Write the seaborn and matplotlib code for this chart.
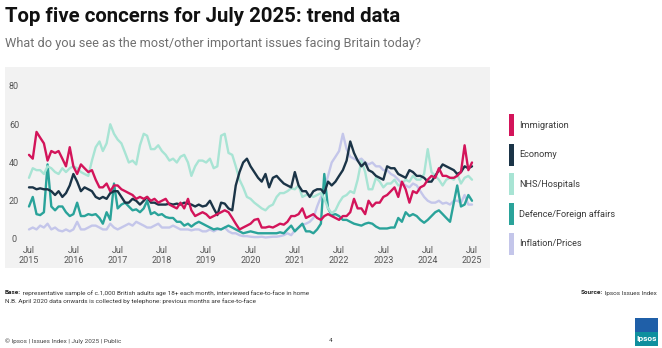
import matplotlib
matplotlib.use("Agg")
import matplotlib.pyplot as plt
import matplotlib.dates as mdates
from matplotlib import font_manager
from matplotlib.patches import Rectangle
import numpy as np
import pandas as pd
import seaborn as sns

# Monthly share (%) naming each issue, Jul 2015 - Jul 2025
months = pd.date_range("2015-07-01", "2025-07-01", freq="MS")

immigration = [
    44, 42, 56, 53, 50, 41, 46, 45, 46, 42,
    38, 48, 38, 34, 39, 37, 35, 36, 31, 27,
    27, 29, 25, 28, 28, 26, 25, 24, 23, 21,
    22, 21, 22, 20, 21, 19, 20, 21, 18, 17,
    16, 19, 16, 21, 15, 12, 13, 14, 13, 11,
    12, 13, 14, 15, 14, 11, 8, 5, 6, 7,
    8, 10, 10.5, 6, 6, 6.5, 6, 7, 8, 7.5,
    9, 12, 12, 13, 16, 11, 12, 13, 11, 10,
    12, 13, 12, 11, 10, 12, 12, 14, 21, 16,
    16, 13, 20, 17, 19, 19, 22, 23, 25, 27,
    22, 30, 26, 19, 25, 24, 27, 28, 31, 33,
    32, 37, 33, 33, 32, 32, 33, 35, 49, 36,
    40,
]

economy = [
    27, 27, 26, 26.5, 26, 26, 25, 23, 25, 22,
    24, 28, 34, 30, 25, 27, 26, 25, 22, 21,
    22, 21, 24, 25, 25, 22, 19, 19, 21, 20,
    18, 20, 22, 19, 19, 18, 18, 18, 18.5, 18,
    18.5, 18, 19, 18.5, 18, 17, 18, 17, 17.5, 20,
    16, 12.5, 19, 18.5, 16, 15, 28, 35, 40, 42,
    38, 35, 32, 30, 34, 27, 32, 33, 31, 29,
    28, 27, 35, 28, 25, 25, 22, 25, 26, 26,
    24, 30, 28, 30, 33, 36, 41, 51, 45, 41,
    38, 40, 36, 35, 33, 32, 31, 38, 37, 37,
    34, 33, 32, 36, 35, 33, 33, 32, 30, 30,
    33, 36, 39, 38, 37, 36, 34, 35, 38, 37,
    38,
]

nhs = [
    32, 37, 36, 36, 34, 38, 37, 35, 34, 37,
    35, 37, 38, 37, 35, 34, 33, 41, 48, 51,
    46, 50, 60, 55, 52, 50, 45, 40, 41, 39,
    49, 55, 54, 47, 47, 49, 46, 44, 41, 42,
    40, 43, 44, 40, 33, 38, 41, 41, 40, 42,
    37, 38, 54, 55, 45, 44, 38, 31, 27, 22,
    21, 19, 17.5, 16, 15, 17, 18, 22, 24, 24,
    25, 26.5, 26, 28, 22, 23, 23, 22, 23, 24,
    21, 16, 13.5, 15, 19, 22, 23, 25, 24, 31,
    41, 35, 26, 26, 32, 30, 27, 29, 29, 31,
    28, 29, 31, 30, 33, 31, 31, 34, 47, 35,
    33, 31, 28, 31, 32, 31, 34, 29, 32, 33,
    31,
]

defence = [
    17, 22, 13, 12.5, 14, 39, 17, 15, 17, 17,
    14, 12, 13, 19, 12, 12, 13, 12.5, 13, 11,
    8, 14, 10, 29, 16, 18, 19, 17, 15, 15.5,
    14, 16, 20, 13, 14, 12.5, 13, 11.5, 11, 11,
    9, 9, 7, 8, 6.5, 8, 9, 8, 7, 6,
    5, 5.5, 5, 6, 7, 6, 5, 4, 3, 3.5,
    4, 3.5, 3, 3, 3, 3, 3, 3, 3.5, 3,
    5, 7, 4, 6, 8, 4, 4, 3, 5, 8,
    34, 16, 12.5, 13, 12, 10, 10, 9, 8, 7.5,
    7, 8, 8.5, 8, 6.5, 5.5, 5.5, 5.5, 6, 6,
    11, 9, 14, 12, 13, 12, 10, 8.5, 10, 12,
    14, 15, 13, 11, 9, 19, 28, 17, 18, 23,
    20,
]

inflation = [
    5, 6, 5, 7, 6, 8, 5, 6, 4.5, 4,
    5, 4, 5, 9, 5, 5, 6, 7, 7, 6,
    5, 5, 8, 6, 5, 6, 7, 8, 7, 9,
    8, 7, 6, 6, 7, 8, 6, 6, 6, 7,
    6, 5, 5, 5, 4.5, 5, 5, 4, 4, 5,
    4, 5, 5, 6, 4, 3, 3, 2, 1.5, 1.5,
    1.2, 1, 1, 1.2, 0.8, 1, 1.2, 1.2, 1.5, 2,
    3, 2, 4.5, 6, 7.5, 8, 9, 11, 17, 22,
    26, 33, 40, 43, 46, 55, 47, 43, 42, 41,
    42, 40, 39, 40, 38, 38, 36, 36, 34, 33,
    31, 29, 28, 27, 29, 28, 25, 22, 20, 19,
    19, 20, 18.5, 19, 18, 20, 20, 19, 23, 18,
    18,
]

series_names = ["Immigration", "Economy", "NHS/Hospitals",
                "Defence/Foreign affairs", "Inflation/Prices"]
series_values = [immigration, economy, nhs, defence, inflation]
series_colors = ["#d3145a", "#1b3447", "#a8e4d4", "#2aa39a", "#c4c6ea"]
tick_years = list(range(2015, 2026))
y_ticks = [0, 20, 40, 60, 80]

title = "Top five concerns for July 2025: trend data"
subtitle = "What do you see as the most/other important issues facing Britain today?"
base_label = "Base:"
base_text = (" representative sample of c.1,000 British adults age 18+ each month, "
             "interviewed face-to-face in home")
nb_text = ("N.B. April 2020 data onwards is collected by telephone: "
           "previous months are face-to-face")
source_label = "Source:"
source_text = " Ipsos Issues Index"
footer_text = "\u00a9 Ipsos | Issues Index | July 2025 | Public"
page_number = "4"

df = pd.concat(
    [pd.DataFrame({"month": months, "share": vals, "issue": name})
     for name, vals in zip(series_names, series_values)],
    ignore_index=True,
)

sns.set_theme(style="white")
available = {f.name for f in font_manager.fontManager.ttflist}
base_font = "Liberation Sans Narrow" if "Liberation Sans Narrow" in available else "Roboto"
plt.rcParams["font.family"] = [base_font, "DejaVu Sans"]

W, H = 662, 348
fig = plt.figure(figsize=(W / 100, H / 100), dpi=100)
fig.patch.set_facecolor("white")


def fx(px):
    return px / W


def fy(py):
    return 1 - py / H


# light grey chart panel
fig.add_artist(Rectangle((fx(5), fy(268)), fx(485), (268 - 67) / H,
                         transform=fig.transFigure, facecolor="#f2f2f2",
                         edgecolor="none", zorder=0))

ax_left, ax_right, ax_top, ax_bottom = 24, 480, 86, 245
ax = fig.add_axes([fx(ax_left), fy(ax_bottom), (ax_right - ax_left) / W,
                   (ax_bottom - ax_top) / H])
ax.set_facecolor("none")

palette = dict(zip(series_names, series_colors))
sns.lineplot(data=df, x="month", y="share", hue="issue",
             hue_order=series_names[::-1], palette=palette,
             linewidth=1.7, legend=False, ax=ax)

# axis scaling: Jul 2015 at x=29px, Jul 2025 at x=472px
x0 = mdates.date2num(pd.Timestamp("2015-07-01"))
x1 = mdates.date2num(pd.Timestamp("2025-07-01"))
ppd = (472 - 29) / (x1 - x0)
ax.set_xlim(x0 - (29 - ax_left) / ppd, x1 + (ax_right - 472) / ppd)
ppu = (239 - 86) / 80
ax.set_ylim(-(ax_bottom - 239) / ppu, 80)

ax.set_xticks([mdates.date2num(pd.Timestamp(f"{y}-07-01")) for y in tick_years])
ax.set_xticklabels([f"Jul\n{y}" for y in tick_years], fontsize=6.5,
                   color="#555555", linespacing=1.15)
ax.set_yticks(y_ticks)
ax.set_yticklabels([str(v) for v in y_ticks], fontsize=6.5, color="#555555")
for lab in ax.get_yticklabels():
    lab.set_horizontalalignment("center")
ax.tick_params(axis="x", length=0, pad=1.0)
ax.tick_params(axis="y", length=0, pad=10 * 0.72)
ax.set_xlabel("")
ax.set_ylabel("")
for s in ax.spines.values():
    s.set_visible(False)
ax.grid(False)

# legend: coloured bars with labels
for k, (name, color) in enumerate(zip(series_names, series_colors)):
    yc = 125 + k * 29.7
    fig.add_artist(Rectangle((fx(509), fy(yc + 11)), fx(5), 22 / H,
                             transform=fig.transFigure, facecolor=color,
                             edgecolor="none"))
    fig.text(fx(519), fy(yc), name, ha="left", va="center",
             fontsize=6.6, color="#3a3a3a")

renderer = fig.canvas.get_renderer()


def fit_width(txt, width_px):
    w = txt.get_window_extent(renderer).width
    txt.set_fontsize(txt.get_fontsize() * width_px / w)


t_title = fig.text(fx(5), fy(16), title, ha="left", va="center",
                   fontsize=14, fontweight="bold", color="#111111")
fit_width(t_title, 395)
t_sub = fig.text(fx(5), fy(43), subtitle, ha="left", va="center",
                 fontsize=9.5, color="#707070")
fit_width(t_sub, 418)

# footnotes
fs_note = 4.6
t_base = fig.text(fx(5), fy(293), base_label, ha="left", va="center",
                  fontsize=fs_note, fontweight="bold", color="#222222")
bw = t_base.get_window_extent(renderer).width
fig.text(fx(5 + bw), fy(293), base_text, ha="left", va="center",
         fontsize=fs_note, color="#333333")
fig.text(fx(5), fy(301), nb_text, ha="left", va="center",
         fontsize=fs_note, color="#333333")

t_src = fig.text(fx(657), fy(293), source_text, ha="right", va="center",
                 fontsize=fs_note, color="#333333")
sw = t_src.get_window_extent(renderer).width
fig.text(fx(657 - sw), fy(293), source_label, ha="right", va="center",
         fontsize=fs_note, fontweight="bold", color="#222222")

fig.text(fx(5), fy(341), footer_text, ha="left", va="center",
         fontsize=fs_note, color="#444444")
fig.text(fx(331), fy(341), page_number, ha="center", va="center",
         fontsize=fs_note, color="#444444")

# brand mark
fig.add_artist(Rectangle((fx(635), fy(346)), fx(23), 28 / H,
                         transform=fig.transFigure, facecolor="#0f8f9e",
                         edgecolor="none"))
fig.add_artist(Rectangle((fx(635), fy(332)), fx(23), 14 / H,
                         transform=fig.transFigure, facecolor="#1f5fa8",
                         edgecolor="none"))
fig.text(fx(646.5), fy(339), "Ipsos", ha="center", va="center",
         fontsize=6, fontweight="bold", color="white")

fig.savefig("out.png", dpi=100, facecolor="white")
